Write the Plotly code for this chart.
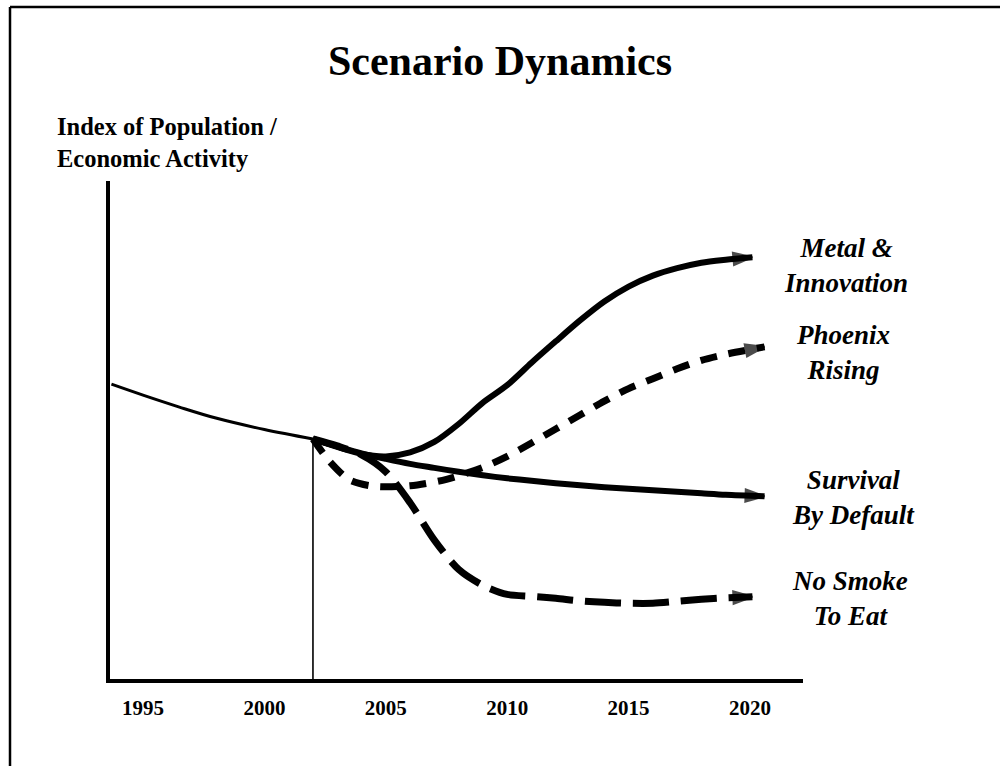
import plotly.graph_objects as go

# ---------------- data (index of population / economic activity) ----------------
hist_years = [1993.7, 1995, 1996.5, 1998, 2000, 2002]
hist_vals = [59.2, 57.0, 54.6, 52.4, 50.1, 48.2]

metal_years = [2002, 2003, 2004, 2005, 2006, 2007, 2008, 2009, 2010, 2011, 2012, 2013,
               2014, 2015, 2016, 2017, 2018, 2019, 2020.1]
metal_vals = [48.2, 46.6, 45.2, 44.7, 45.5, 47.6, 51.2, 55.5, 59.0, 63.5, 67.8, 72.0,
              75.8, 78.8, 81.0, 82.5, 83.6, 84.2, 84.7]

phoenix_years = [2002, 2002.7, 2003.5, 2004.5, 2006, 2007.5, 2009, 2010, 2011, 2012,
                 2013, 2014, 2015, 2016, 2017, 2018, 2019, 2020.6]
phoenix_vals = [48.2, 43.6, 40.0, 38.7, 38.8, 40.1, 42.5, 44.7, 47.4, 50.2,
                53.0, 55.8, 58.3, 60.3, 62.3, 64.0, 65.2, 66.7]

survival_years = [2002, 2003, 2004, 2005, 2006, 2007, 2008, 2009, 2010, 2011, 2012,
                  2013, 2014, 2015, 2016, 2017, 2018, 2019, 2020.6]
survival_vals = [48.2, 46.7, 45.3, 44.2, 43.2, 42.4, 41.6, 40.9, 40.3, 39.8, 39.3,
                 38.9, 38.5, 38.2, 37.9, 37.6, 37.3, 37.0, 36.7]

nosmoke_years = [2002, 2003, 2004, 2005, 2006, 2007, 2008, 2009, 2010, 2011, 2012,
                 2013, 2014, 2015, 2016, 2017, 2018, 2019, 2020.1]
nosmoke_vals = [48.2, 46.8, 45.0, 41.6, 35.4, 27.9, 22.0, 18.8, 17.0, 16.6, 16.2,
                15.7, 15.4, 15.2, 15.2, 15.6, 16.0, 16.3, 16.5]

marker_year = 2002
marker_val = 48.2

tick_years = [1995, 2000, 2005, 2010, 2015, 2020]

scenario_labels = ["Metal &<br>Innovation", "Phoenix<br>Rising",
                   "Survival<br>By Default", "No Smoke<br>To Eat"]

# ---------------- figure ----------------
SERIF = "Liberation Serif, Times New Roman, serif"
fig = go.Figure()

# historical trend
fig.add_trace(go.Scatter(x=hist_years, y=hist_vals, mode="lines",
                         line=dict(color="black", width=3, shape="spline"),
                         hoverinfo="skip", showlegend=False))
# "today" marker line
fig.add_trace(go.Scatter(x=[marker_year, marker_year], y=[0, marker_val], mode="lines",
                         line=dict(color="black", width=1.6),
                         hoverinfo="skip", showlegend=False))


def scenario(xs, ys, dash, width):
    n = len(xs)
    fig.add_trace(go.Scatter(
        x=xs, y=ys, mode="lines+markers",
        line=dict(color="black", width=width, shape="spline", smoothing=0.8, dash=dash),
        marker=dict(symbol="arrow", angleref="previous", color="black",
                    size=[0] * (n - 1) + [20], line=dict(color="black", width=2)),
        hoverinfo="skip", showlegend=False))


scenario(survival_years, survival_vals, "solid", 6)
scenario(metal_years, metal_vals, "solid", 6)
scenario(phoenix_years, phoenix_vals, "17px,12px", 7)
scenario(nosmoke_years, nosmoke_vals, "36px,12px", 7)

W, H = 1000, 766


def px(x):
    return x / W


def py(y):
    return 1 - y / H


annotations = [
    dict(text="<b>Index of Population /<br>Economic Activity</b>", xref="paper", yref="paper",
         x=px(55), y=py(142), xanchor="left", yanchor="middle", align="left", showarrow=False,
         font=dict(family=SERIF, size=24.5, color="black")),
]
label_pos = [(846, 265), (843, 352), (853, 497), (850, 598)]
for txt, (lx, ly) in zip(scenario_labels, label_pos):
    annotations.append(dict(text="<b><i>" + txt + "</i></b>", xref="paper", yref="paper",
                            x=px(lx), y=py(ly), xanchor="center", yanchor="middle",
                            align="center", showarrow=False,
                            font=dict(family=SERIF, size=27, color="black")))

shapes = [
    dict(type="line", xref="paper", yref="paper", x0=px(10), x1=px(10), y0=py(7), y1=-0.02,
         line=dict(color="black", width=2.5)),
    dict(type="line", xref="paper", yref="paper", x0=px(10), x1=1.02, y0=py(7), y1=py(7),
         line=dict(color="black", width=2.5)),
]

fig.update_layout(
    width=W, height=H, autosize=False,
    margin=dict(l=0, r=0, t=0, b=0, pad=0),
    paper_bgcolor="white", plot_bgcolor="white",
    title=dict(text="<b>Scenario Dynamics</b>", x=0.5, xanchor="center",
               y=py(60), yanchor="middle",
               font=dict(family=SERIF, size=42, color="black")),
    xaxis=dict(domain=[0.110, 0.803], range=[1993.641, 2022.183],
               showgrid=False, zeroline=False, showline=True, linecolor="black", linewidth=3.5,
               tickmode="array", tickvals=tick_years, ticktext=[str(t) for t in tick_years],
               ticks="", ticklabelstandoff=7,
               tickfont=dict(family=SERIF, size=21, color="black", weight="bold")),
    yaxis=dict(domain=[1 - 679 / H, 1 - 181 / H], range=[0, 100],
               showgrid=False, zeroline=False, showline=True, linecolor="black", linewidth=3.5,
               showticklabels=False, ticks=""),
    annotations=annotations, shapes=shapes,
)

fig.write_html("out.html")
